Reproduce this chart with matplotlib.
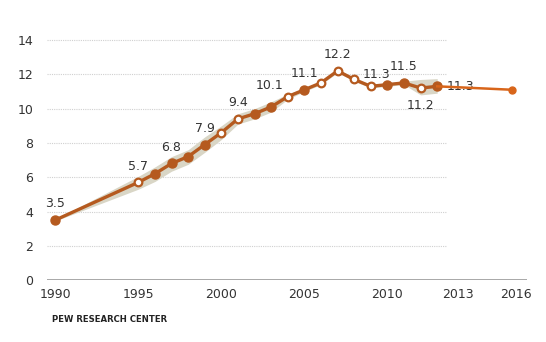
import matplotlib.pyplot as plt
import numpy as np

years = [1990, 1995, 1996, 1997, 1998, 1999, 2000, 2001, 2002, 2003, 2004,
         2005, 2006, 2007, 2008, 2009, 2010, 2011, 2012, 2013]
values = [3.5, 5.7, 6.2, 6.8, 7.2, 7.9, 8.6, 9.4, 9.7, 10.1, 10.7,
          11.1, 11.5, 12.2, 11.7, 11.3, 11.4, 11.5, 11.2, 11.3]
hollow_years = [1995, 2000, 2001, 2004, 2006, 2007, 2008, 2009, 2012]
band_low = [3.45, 5.3, 5.75, 6.35, 6.75, 7.45, 8.2, 9.1, 9.4, 9.8, 10.55,
            11.0, 11.4, 12.1, 11.6, 11.2, 11.3, 11.4, 10.8, 10.9]
band_high = [3.55, 6.05, 6.6, 7.2, 7.6, 8.35, 9.0, 9.7, 10.0, 10.4, 10.85,
             11.2, 11.6, 12.3, 11.8, 11.4, 11.5, 11.6, 11.7, 11.75]
proj_years = [2013, 2016]
proj_values = [11.3, 11.1]
labels = [(1990, "3.5", "above"), (1995, "5.7", "above"), (1997, "6.8", "above"),
          (1999, "7.9", "above"), (2001, "9.4", "above"), (2003, "10.1", "high"),
          (2005, "11.1", "above"), (2007, "12.2", "above"), (2009, "11.3", "above"),
          (2011, "11.5", "above"), (2012, "11.2", "below"), (2013, "11.3", "right")]
xtick_labels = ["1990", "1995", "2000", "2005", "2010", "2013", "2016"]
yticks = [0, 2, 4, 6, 8, 10, 12, 14]

brown = "#b55a1f"
orange = "#d8651a"
band = "#d9d6c6"
text = "#333333"


def fwd(x):
    x = np.asarray(x, dtype=float)
    return np.where(x <= 2013, x, 2013 + (x - 2013) * 1.5)


def inv(x):
    x = np.asarray(x, dtype=float)
    return np.where(x <= 2013, x, 2013 + (x - 2013) / 1.5)


fig = plt.figure(figsize=(5.46, 3.42), dpi=100)
ax = fig.add_axes([0.086, 0.181, 0.879, 0.717])
ax.set_xscale("function", functions=(fwd, inv))
ax.set_xlim(1989.5, 2016.6)
ax.set_ylim(0, 14.3)

for y in yticks[1:]:
    ax.plot([1989.5, 2013.4], [y, y], color="#d0d0d0", lw=0.8, ls=(0, (1, 1)), zorder=1)
ax.axhline(0, color="#999999", lw=1.2, zorder=2)

ax.fill_between(years, band_low, band_high, color=band, lw=0, zorder=2)
ax.plot(years, values, color=brown, lw=2.4, zorder=3, solid_capstyle="round")

filled = [(x, v) for x, v in zip(years, values) if x not in hollow_years]
hollow = [(x, v) for x, v in zip(years, values) if x in hollow_years]
ax.plot([p[0] for p in filled], [p[1] for p in filled], "o", ms=6.5,
        color=brown, zorder=4)
ax.plot([p[0] for p in hollow], [p[1] for p in hollow], "o", ms=5.5,
        mfc="white", mec=brown, mew=1.6, zorder=4)

lookup = dict(zip(years, values))
placement = {
    "above": ((0, 7), "center", "bottom"),
    "high": ((-1, 11), "center", "bottom"),
    "below": ((0, -8), "center", "top"),
    "right": ((7, 0), "left", "center"),
}
for yr, s, where in labels:
    off, ha, va = placement[where]
    if yr == 2009:
        off = (4, 4)
    ax.annotate(s, (yr, lookup[yr]), xytext=off, textcoords="offset points",
                ha=ha, va=va, fontsize=9, color=text, zorder=5)

ax.plot(proj_years, proj_values, color=orange, lw=1.8, zorder=6)
ax.plot(proj_years[1:], proj_values[1:], "o", ms=5, color=orange, zorder=6)

for s in ax.spines.values():
    s.set_visible(False)
# the source places the last two year labels a little right of their points
ax.set_xticks([1990, 1995, 2000, 2005, 2010, 2013.85, 2016.15])
ax.set_xticklabels(xtick_labels)
ax.set_yticks(yticks)
ax.tick_params(length=0, labelsize=9, colors=text, pad=6)
ax.tick_params(axis="y", pad=10)
ax.xaxis.set_minor_locator(plt.NullLocator())

fig.text(0.095, 0.058, "PEW RESEARCH CENTER", fontsize=6.1, fontweight="bold",
         color="#222222")

fig.savefig("out.png", dpi=100, facecolor="white")
